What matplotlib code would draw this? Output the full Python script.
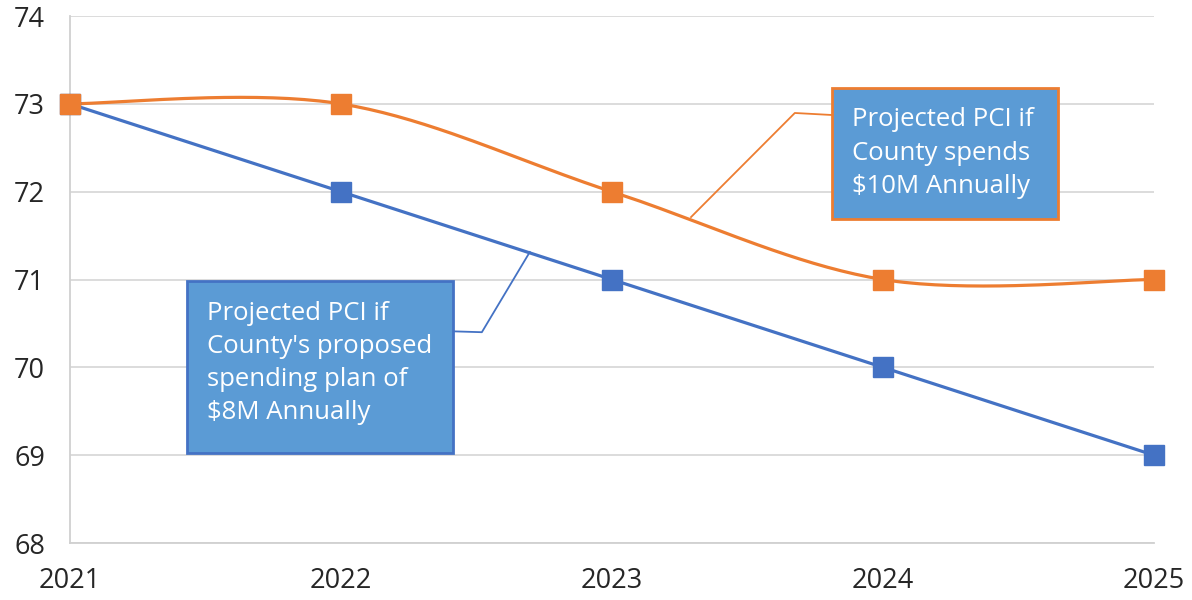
import numpy as np
import matplotlib.pyplot as plt
from matplotlib.patches import Rectangle

plt.rcParams['font.family'] = ['Open Sans', 'DejaVu Sans']

years = [2021, 2022, 2023, 2024, 2025]
pci_10m = [73, 73, 72, 71, 71]
pci_8m = [73, 72, 71, 70, 69]

label_10m = 'Projected PCI if\nCounty spends\n$10M Annually'
label_8m = "Projected PCI if\nCounty's proposed\nspending plan of\n$8M Annually"

orange = '#ED7D31'
blue = '#4472C4'
box_fill = '#5B9BD5'


def smooth(x, y, n=40):
    # Catmull-Rom like Excel's smoothed line
    x = np.asarray(x, float)
    y = np.asarray(y, float)
    px = np.concatenate([[x[0]], x, [x[-1]]])
    py = np.concatenate([[y[0]], y, [y[-1]]])
    xs, ys = [], []
    t = np.linspace(0, 1, n)
    for i in range(1, len(px) - 2):
        mx0 = (px[i + 1] - px[i - 1]) / 2
        my0 = (py[i + 1] - py[i - 1]) / 2
        mx1 = (px[i + 2] - px[i]) / 2
        my1 = (py[i + 2] - py[i]) / 2
        h00 = 2 * t**3 - 3 * t**2 + 1
        h10 = t**3 - 2 * t**2 + t
        h01 = -2 * t**3 + 3 * t**2
        h11 = t**3 - t**2
        xs.append(h00 * px[i] + h10 * mx0 + h01 * px[i + 1] + h11 * mx1)
        ys.append(h00 * py[i] + h10 * my0 + h01 * py[i + 1] + h11 * my1)
    return np.concatenate(xs), np.concatenate(ys)


fig = plt.figure(figsize=(11.92, 6), dpi=100)
ax = fig.add_axes([0.0587, 0.095, 0.9093, 0.8783])

sx, sy = smooth(years, pci_8m)
ax.plot(sx, sy, color=blue, lw=2.3, zorder=3)
ax.plot(years, pci_8m, 's', color=blue, ms=14, zorder=4, clip_on=False)

sx, sy = smooth(years, pci_10m)
ax.plot(sx, sy, color=orange, lw=2.3, zorder=3, clip_on=False)
ax.plot(years, pci_10m, 's', color=orange, ms=14, zorder=4, clip_on=False)

ax.set_xlim(2021, 2025)
ax.set_ylim(68, 74)
ax.set_xticks(years)
ax.set_yticks(range(68, 75))
ax.tick_params(length=0, labelsize=19.5, colors='#262626')
ax.tick_params(axis='y', pad=18)
ax.tick_params(axis='x', pad=17)
ax.grid(axis='y', color='#D9D9D9', lw=1.3)
ax.set_axisbelow(True)
for s in ['top', 'right']:
    ax.spines[s].set_visible(False)
for s in ['left', 'bottom']:
    ax.spines[s].set_color('#D0D0D0')
    ax.spines[s].set_linewidth(1.3)

# callout for $8M plan
ax.plot([2022.413, 2022.52, 2022.697], [70.41, 70.40, 71.313],
        color=blue, lw=1.3, zorder=5)
ax.add_patch(Rectangle((2021.432, 69.025), 0.981, 1.958, facecolor=box_fill,
                       edgecolor=blue, lw=2, zorder=6))
ax.text(2021.506, 70.76, label_8m, color='white', fontsize=18.5, va='top',
        ha='left', linespacing=1.43, zorder=7)

# callout for $10M
ax.plot([2023.812, 2023.675, 2023.292], [72.873, 72.896, 71.711],
        color=orange, lw=1.3, zorder=5)
ax.add_patch(Rectangle((2023.812, 71.689), 0.834, 1.491, facecolor=box_fill,
                       edgecolor=orange, lw=2, zorder=6))
ax.text(2023.886, 72.96, label_10m, color='white', fontsize=18.5, va='top',
        ha='left', linespacing=1.43, zorder=7)

plt.savefig('out.png')
